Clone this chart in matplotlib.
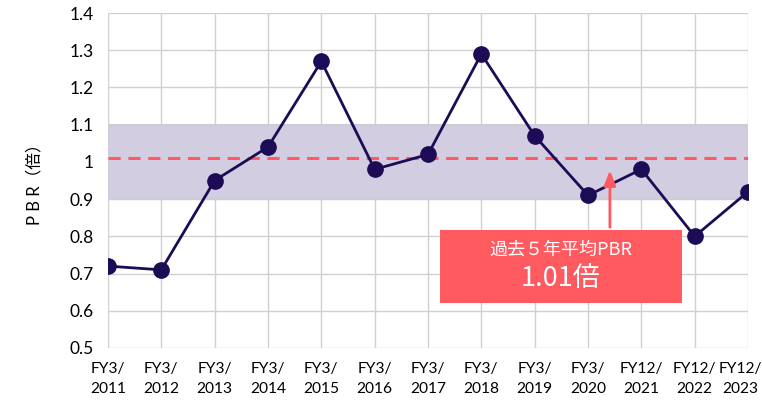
import matplotlib.pyplot as plt
import matplotlib.transforms as mtransforms
from matplotlib.patches import Rectangle

plt.rcParams['font.family'] = ['Lato', 'Noto Sans CJK JP', 'DejaVu Sans']

### data
years = ['FY3/\n2011', 'FY3/\n2012', 'FY3/\n2013', 'FY3/\n2014', 'FY3/\n2015',
         'FY3/\n2016', 'FY3/\n2017', 'FY3/\n2018', 'FY3/\n2019', 'FY3/\n2020',
         'FY12/\n2021', 'FY12/\n2022', 'FY12/\n2023']
pbr = [0.72, 0.71, 0.95, 1.04, 1.27, 0.98, 1.02, 1.29, 1.07, 0.91, 0.98, 0.80, 0.92]
band_low = 0.9
band_high = 1.1
avg_pbr = 1.01
yticks = [0.5, 0.6, 0.7, 0.8, 0.9, 1.0, 1.1, 1.2, 1.3, 1.4]
ytick_labels = ['0.5', '0.6', '0.7', '0.8', '0.9', '1', '1.1', '1.2', '1.3', '1.4']

line_color = '#1c0b55'
red = '#ff5a5f'

fig = plt.figure(figsize=(7.62, 4.03), dpi=100)
ax = fig.add_axes([0.1417, 0.1365, 0.84, 0.8312])

x = list(range(len(years)))

### shaded range and average line
ax.axhspan(band_low, band_high, facecolor='#d3cde2', edgecolor='#cfccd8', linewidth=1.5, zorder=1)
ax.axhline(avg_pbr, color=red, linestyle=(0, (4, 2.5)), linewidth=2.2, zorder=2)

### PBR line
ax.plot(x, pbr, color=line_color, linewidth=2, marker='o', markersize=11, zorder=4)

ax.set_xlim(0, len(years) - 1)
ax.set_ylim(0.5, 1.4)
ax.set_xticks(x)
ax.set_xticklabels(years, fontsize=11.2, linespacing=1.55)
ax.set_yticks(yticks)
ax.set_yticklabels(ytick_labels, fontsize=12.5)
ax.grid(True, color='#d0d0d0', linewidth=1)
ax.set_axisbelow(True)
ax.tick_params(axis='both', length=0, pad=10)
ax.tick_params(axis='x', pad=10)
for s in ax.spines.values():
    s.set_visible(False)

### nudge the last tick label left so it stays inside the figure
last = ax.get_xticklabels()[-1]
last.set_transform(last.get_transform() + mtransforms.ScaledTranslation(-8 / 100, 0, fig.dpi_scale_trans))

ax.set_ylabel('P B R（倍）', fontsize=12, labelpad=20)

### annotation box with arrow
ax.add_patch(Rectangle((6.225, 0.621), 4.54, 0.196, facecolor=red, edgecolor='none', zorder=5))
ax.annotate('', xy=(9.41, 0.985), xytext=(9.41, 0.817),
            arrowprops=dict(arrowstyle='-|>,head_width=0.35,head_length=0.9', color=red, lw=2), zorder=5)
ax.text(8.49, 0.764, '過去５年平均PBR', color='white', fontsize=13, ha='center', va='center', zorder=6,
        family=['Noto Sans CJK JP', 'DejaVu Sans'])
ax.text(8.49, 0.686, '1.01倍', color='white', fontsize=19.5, ha='center', va='center', zorder=6,
        family=['Noto Sans CJK JP', 'DejaVu Sans'])

plt.savefig('out.png', dpi=100)
